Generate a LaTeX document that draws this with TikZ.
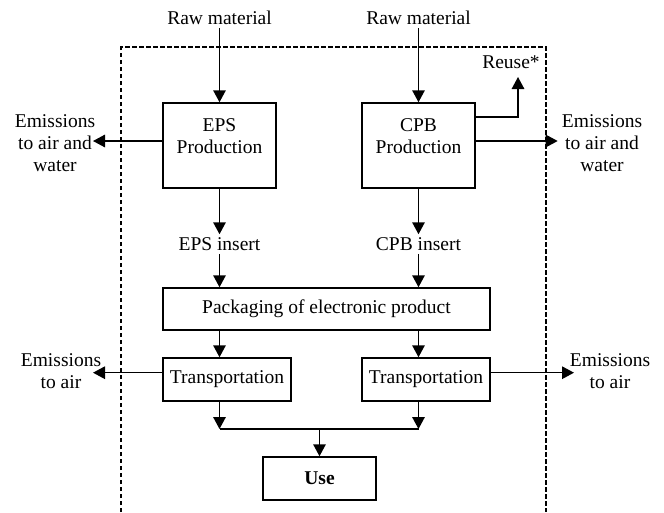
\documentclass[tikz,border=0pt]{standalone}
\usepackage{fontspec}
\setmainfont{Liberation Serif}
\usetikzlibrary{arrows.meta}
\begin{document}
\begin{tikzpicture}[x=1pt,y=1pt,
  txt/.style={font=\fontsize{19.5}{22}\selectfont, align=center, inner sep=3pt},
  box/.style={txt, draw, line width=1.5pt, inner sep=0pt},
  arr/.style={line width=1.5pt, -{Triangle[length=12pt,width=12.5pt]}},
  ln/.style={line width=1.5pt}]
\useasboundingbox (0,0) rectangle (664,-512);
% system boundary
\draw[line width=1.3pt, dash pattern=on 4.5pt off 2.5pt] (121,-512) -- (121,-47) -- (546,-47) -- (546,-512);

% nodes
\node[txt] (raw1) at (219.5,-18) {Raw material};
\node[txt] (raw2) at (418.5,-18) {Raw material};
\node[box, minimum width=113pt, minimum height=85pt] (eps) at (219.5,-145.5) {EPS\\Production\\[-3pt]};
\node[box, minimum width=113pt, minimum height=85pt] (cpb) at (418.5,-145.5) {CPB\\Production\\[-3pt]};
\node[txt] (emiL1) at (55,-143) {Emissions\\to air and\\water};
\node[txt] (emiR1) at (602,-143) {Emissions\\to air and\\water};
\node[txt] (reuse) at (511,-62) {Reuse*};
\node[txt] (epsins) at (219.5,-244) {EPS insert};
\node[txt] (cpbins) at (418.5,-244) {CPB insert};
\node[box, minimum width=327pt, minimum height=42pt] (pack) at (326.5,-309) {Packaging of electronic product};
\node[box, minimum width=128pt, minimum height=43pt] (trL) at (227,-379.5) {Transportation};
\node[box, minimum width=128pt, minimum height=43pt] (trR) at (426,-379.5) {Transportation};
\node[txt] (emiL2) at (61,-371) {Emissions\\to air};
\node[txt] (emiR2) at (610,-371) {Emissions\\to air};
\node[box, minimum width=113pt, minimum height=43pt, font=\fontsize{19.5}{22}\selectfont\bfseries] (use) at (319.5,-478.5) {Use};

% free-end coordinates
\coordinate (ru) at (518,-77);
\coordinate (tL1) at (93,-141);
\coordinate (tR1) at (557.7,-141);
\coordinate (tL2) at (93,-372.7);
\coordinate (tR2) at (574,-372.7);
\coordinate (jL) at (219.5,-429);
\coordinate (jR) at (418.5,-429);
\coordinate (jM) at (319.5,-429);

% connectors
\draw[arr] (raw1) -- (eps);
\draw[arr] (raw2) -- (cpb);
\draw[arr] (eps) -- (epsins);
\draw[arr] (cpb) -- (cpbins);
\draw[arr] ([yshift=4.5pt]eps.west) -- (tL1);
\draw[arr] ([yshift=4.5pt]cpb.east) -- (tR1);
\draw[arr] ([yshift=28.5pt]cpb.east) -| (ru);
\draw[arr] (epsins) -- (epsins |- pack.north);
\draw[arr] (cpbins) -- (cpbins |- pack.north);
\draw[arr] (pack.south -| eps) -- (trL.north -| eps);
\draw[arr] (pack.south -| cpb) -- (trR.north -| cpb);
\draw[arr] (trL.west |- tL2) -- (tL2);
\draw[arr] (trR.east |- tR2) -- (tR2);
\draw[arr] (trL.south -| eps) -- (jL);
\draw[arr] (trR.south -| cpb) -- (jR);
\draw[ln] (jL) -- (jR);
\draw[arr] (jM) -- (use);
\end{tikzpicture}
\end{document}
